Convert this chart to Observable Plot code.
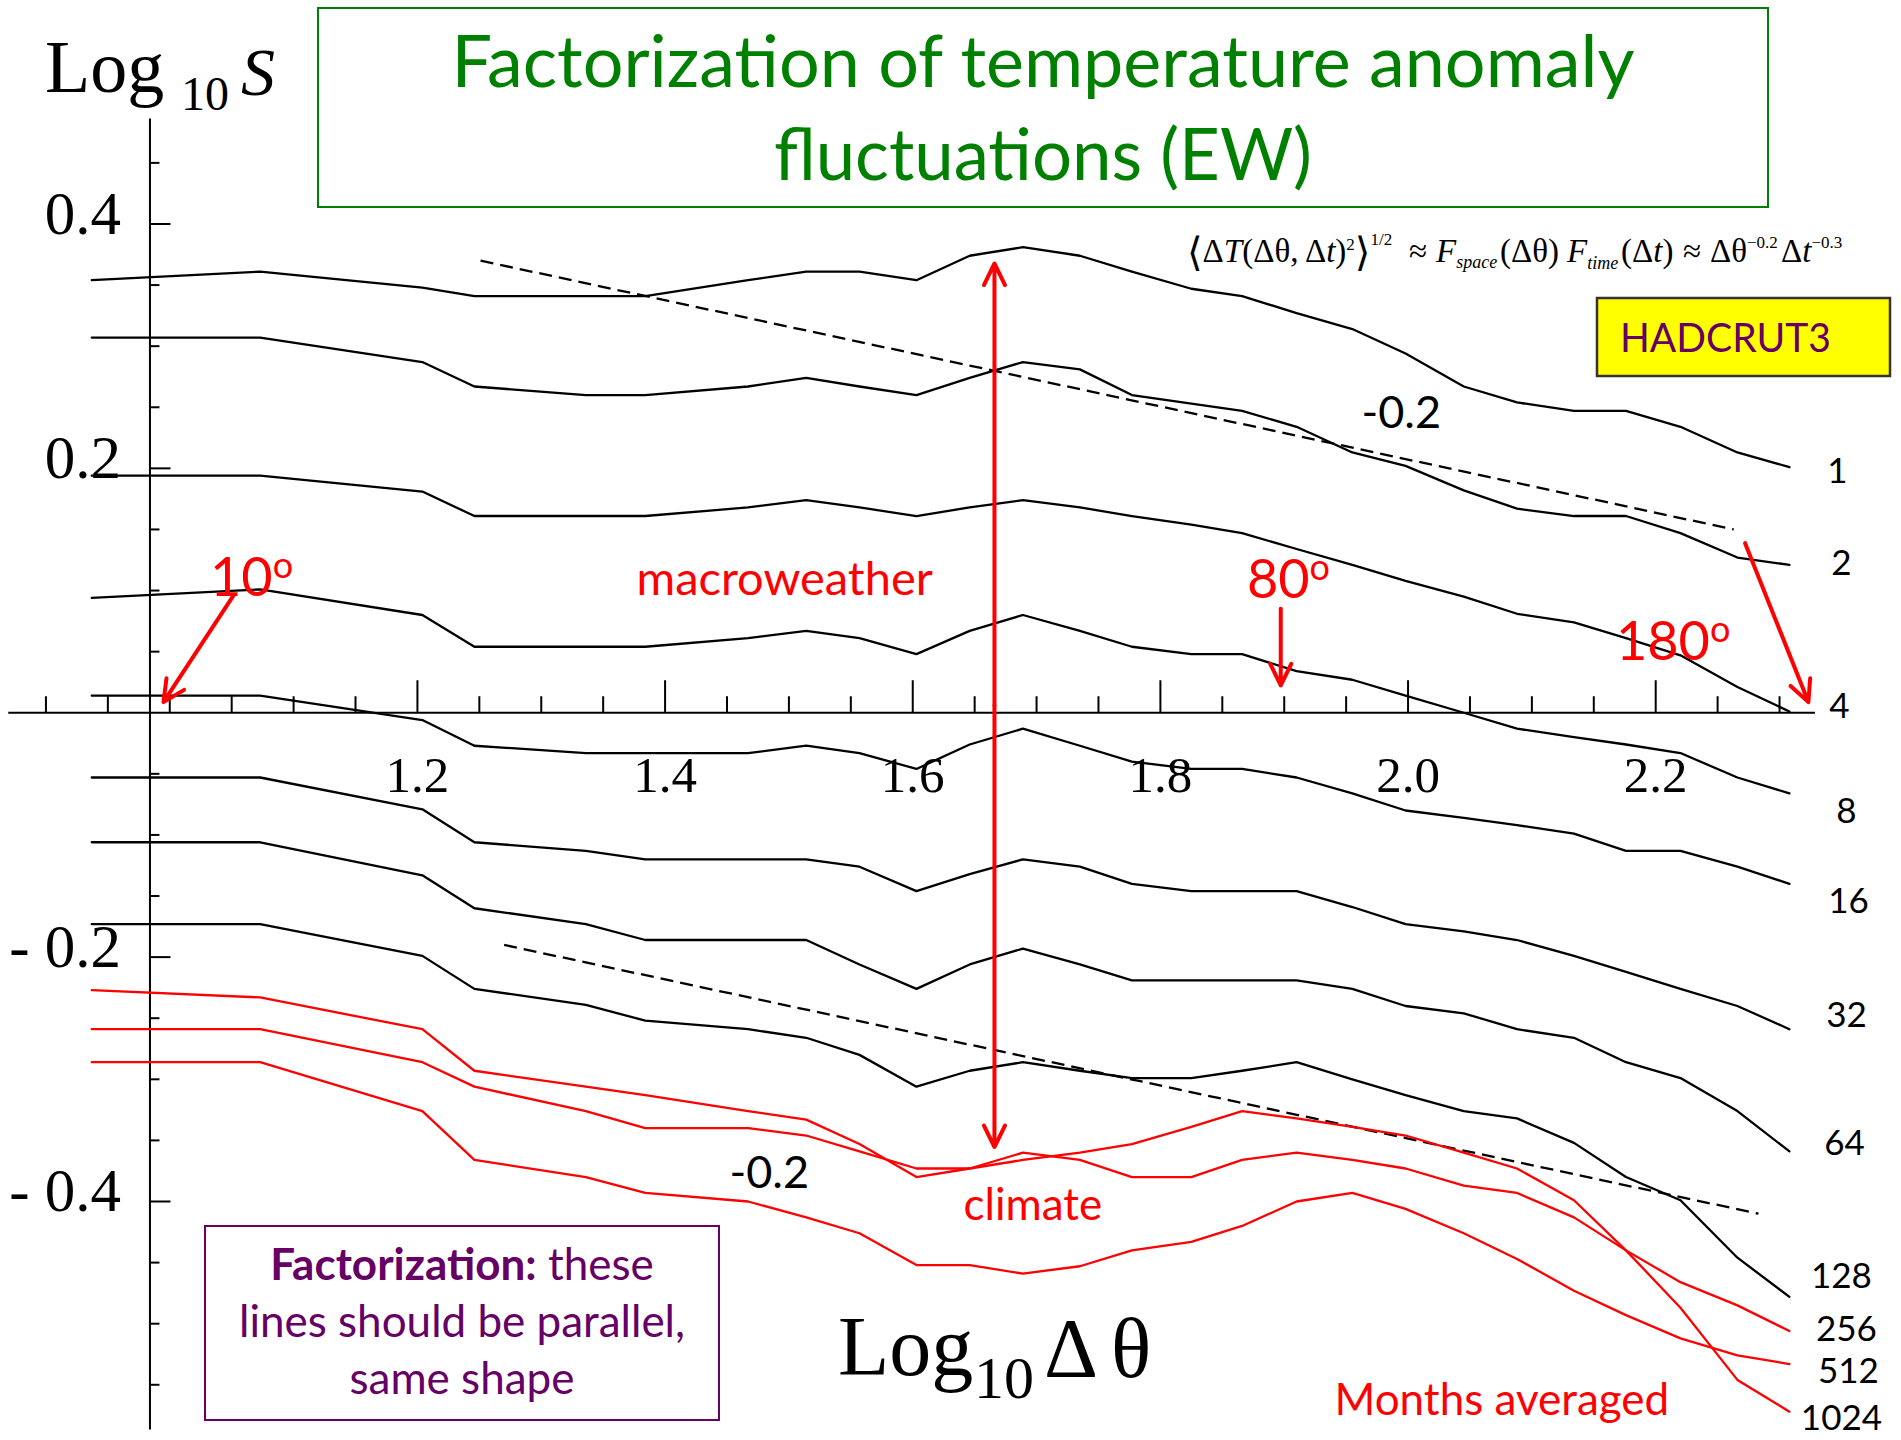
<!DOCTYPE html>
<html>
<head>
<meta charset="utf-8">
<script src="https://cdn.jsdelivr.net/npm/d3@7"></script>
<script src="https://cdn.jsdelivr.net/npm/@observablehq/plot@0.6"></script>
<style>
  html, body { margin: 0; padding: 0; background: #fff; }
  #chart svg { display: block; }
</style>
</head>
<body>
<div id="chart"></div>
<script>
// ---------------------------------------------------------------------------
// Data: log10 of the angular lag Δθ (degrees) and log10 S of the east-west
// temperature anomaly fluctuations, one series per averaging period (months).
// ---------------------------------------------------------------------------
const logTheta = [0.937, 1.073, 1.204, 1.246, 1.336, 1.384, 1.467, 1.514, 1.557, 1.603, 1.646, 1.689, 1.735,
                  1.777, 1.825, 1.866, 1.910, 1.955, 1.998, 2.045, 2.088, 2.134, 2.176, 2.220, 2.266, 2.308];

const s1    = [0.354, 0.361, 0.348, 0.341, 0.341, 0.341, 0.354, 0.361, 0.361, 0.354, 0.374, 0.381, 0.374,
               0.361, 0.347, 0.341, 0.327, 0.314, 0.294, 0.267, 0.254, 0.247, 0.247, 0.234, 0.213, 0.201];
const s2    = [0.307, 0.307, 0.287, 0.267, 0.260, 0.260, 0.267, 0.274, 0.267, 0.260, 0.274, 0.287, 0.281,
               0.260, 0.253, 0.247, 0.234, 0.213, 0.202, 0.182, 0.167, 0.161, 0.161, 0.147, 0.127, 0.121];
const s4    = [0.194, 0.194, 0.181, 0.161, 0.161, 0.161, 0.168, 0.174, 0.168, 0.161, 0.168, 0.174, 0.168,
               0.161, 0.154, 0.147, 0.134, 0.121, 0.108, 0.095, 0.081, 0.074, 0.061, 0.047, 0.021, 0.001];
const s8    = [0.094, 0.101, 0.080, 0.054, 0.054, 0.054, 0.061, 0.067, 0.061, 0.048, 0.067, 0.080, 0.067,
               0.054, 0.048, 0.048, 0.034, 0.027, 0.014, 0.000, -0.013, -0.020, -0.026, -0.033, -0.053, -0.066];
const s16   = [0.014, 0.014, -0.006, -0.027, -0.033, -0.033, -0.033, -0.027, -0.033, -0.046, -0.026, -0.013, -0.027,
               -0.040, -0.046, -0.046, -0.053, -0.066, -0.080, -0.086, -0.092, -0.099, -0.113, -0.113, -0.126, -0.140];
const s32   = [-0.053, -0.053, -0.079, -0.106, -0.113, -0.120, -0.120, -0.120, -0.126, -0.146, -0.132, -0.120, -0.126,
               -0.140, -0.146, -0.146, -0.146, -0.159, -0.173, -0.179, -0.186, -0.199, -0.212, -0.226, -0.240, -0.259];
const s64   = [-0.106, -0.106, -0.133, -0.160, -0.173, -0.186, -0.186, -0.186, -0.206, -0.226, -0.206, -0.193, -0.206,
               -0.219, -0.219, -0.219, -0.219, -0.226, -0.240, -0.246, -0.259, -0.266, -0.286, -0.299, -0.326, -0.359];
const s128  = [-0.173, -0.173, -0.199, -0.226, -0.239, -0.252, -0.259, -0.266, -0.280, -0.306, -0.293, -0.286, -0.293,
               -0.299, -0.299, -0.293, -0.286, -0.300, -0.313, -0.326, -0.332, -0.352, -0.380, -0.399, -0.446, -0.478];
const s256  = [-0.227, -0.233, -0.259, -0.293, -0.306, -0.313, -0.326, -0.333, -0.353, -0.380, -0.373, -0.360, -0.366,
               -0.380, -0.380, -0.366, -0.360, -0.366, -0.373, -0.387, -0.393, -0.413, -0.440, -0.466, -0.485, -0.506];
const s512  = [-0.286, -0.286, -0.326, -0.366, -0.380, -0.393, -0.400, -0.413, -0.426, -0.452, -0.452, -0.459, -0.453,
               -0.440, -0.433, -0.420, -0.400, -0.393, -0.406, -0.426, -0.447, -0.473, -0.493, -0.512, -0.526, -0.533];
const s1024 = [-0.259, -0.259, -0.286, -0.306, -0.326, -0.340, -0.340, -0.346, -0.359, -0.373, -0.373, -0.366, -0.360,
               -0.353, -0.339, -0.326, -0.332, -0.339, -0.346, -0.360, -0.373, -0.399, -0.440, -0.487, -0.546, -0.572];

const periods = ["1", "2", "4", "8", "16", "32", "64", "128", "256", "512", "1024"];
const climatePeriods = ["256", "512", "1024"];

// Axis ticks
const xTickLabels = ["1.2", "1.4", "1.6", "1.8", "2.0", "2.2"];
const yTickLabels = ["0.4", "0.2", "- 0.2", "- 0.4"];
const yTickValues = [0.4, 0.2, -0.2, -0.4];

// Reference slopes (-0.2) drawn as dashed guides
const slopeGuides = [
  {x1: 1.251, y1: 0.370, x2: 2.263, y2: 0.150},
  {x1: 1.270, y1: -0.190, x2: 2.283, y2: -0.410}
];

// ---------------------------------------------------------------------------
// Layout
// ---------------------------------------------------------------------------
const W = 1901, H = 1440;
const X_DOMAIN = [0.8633, 2.3985];
const Y_DOMAIN = [-0.5956, 0.5829];
const sx = Plot.scale({x: {domain: X_DOMAIN, range: [0, W]}});
const sy = Plot.scale({y: {domain: Y_DOMAIN, range: [H, 0]}});
const ux = n => n * (X_DOMAIN[1] - X_DOMAIN[0]) / W;   // px -> x units
const uy = n => n * (Y_DOMAIN[1] - Y_DOMAIN[0]) / H;   // px -> y units (upward)

const yAxisAt = 0.984;               // where the vertical axis crosses the x scale
const xAxisSpan = [0.870, 2.329];
const yAxisSpan = [-0.587, 0.486];

const SERIF = "'Liberation Serif', 'Times New Roman', 'DejaVu Serif', serif";
const SANS = "Lato, 'Open Sans', sans-serif";
const RED = "#ff0000";
const PURPLE = "#660066";
const GREEN = "#008000";

// series label offsets from each line's last point: [dx, dy] in px (dy = baseline below point)
const labelNudge = {
  "1": [48, 16], "2": [52, 10], "4": [50, 6], "8": [57, 30], "16": [59, 29], "32": [57, -2],
  "64": [55, 4], "128": [52, -9], "256": [57, 10], "512": [59, 19], "1024": [52, 18]
};

// ---------------------------------------------------------------------------
// Build tables
// ---------------------------------------------------------------------------
const seriesByPeriod = {"1": s1, "2": s2, "4": s4, "8": s8, "16": s16, "32": s32, "64": s64,
                        "128": s128, "256": s256, "512": s512, "1024": s1024};
const rows = periods.flatMap(p => logTheta.map((x, i) => ({period: p, logTheta: x, logS: seriesByPeriod[p][i]})));
const blackRows = rows.filter(d => !climatePeriods.includes(d.period));
const redRows = rows.filter(d => climatePeriods.includes(d.period));

const last = logTheta.length - 1;
const labelRows = periods.map(p => ({
  period: p,
  x: logTheta[last] + ux(labelNudge[p][0]),
  y: seriesByPeriod[p][last] - uy(labelNudge[p][1])
}));

const xMajor = xTickLabels.map(Number);
const xMinor = d3.range(18, 47).map(k => k / 20).filter(v => !xMajor.some(m => Math.abs(m - v) < 1e-9));
const yMinor = d3.range(-11, 10).map(k => k / 20)
  .filter(v => Math.abs(v) > 1e-9 && !yTickValues.some(m => Math.abs(m - v) < 1e-9));

// Annotation arrows (data coordinates)
const arrows = [
  {x1: 1.0515, y1: 0.0960, x2: 0.9949, y2: 0.0087},   // 10°
  {x1: 1.8972, y1: 0.0851, x2: 1.8972, y2: 0.0223},   // 80°
  {x1: 2.2722, y1: 0.1388, x2: 2.3233, y2: 0.0087},   // 180°
  {x1: 1.666, y1: 0.006, x2: 1.666, y2: 0.3677},      // macroweather ↔ climate
  {x1: 1.666, y1: 0.006, x2: 1.666, y2: -0.3555}
];

const redNotes = [
  {text: "macroweather", x: 1.3769, y: 0.0960, size: 47},
  {text: "climate", x: 1.6410, y: -0.4155, size: 44},
  {text: "Months averaged", x: 1.9406, y: -0.5751, size: 44}
];
const slopeNotes = [
  {text: "-0.2", x: 1.9624, y: 0.2327},
  {text: "-0.2", x: 1.4520, y: -0.3893}
];
const degreeNotes = [
  {deg: "10", x: 1.0329, y: 0.0952},
  {deg: "80", x: 1.8703, y: 0.0935},
  {deg: "180", x: 2.1683, y: 0.0428}
];

// ---------------------------------------------------------------------------
// Chart
// ---------------------------------------------------------------------------
const chart = Plot.plot({
  width: W,
  height: H,
  margin: 0,
  style: {background: "#fff", fontFamily: SANS},
  x: {domain: X_DOMAIN, range: [0, W], axis: null},
  y: {domain: Y_DOMAIN, range: [H, 0], axis: null},
  marks: [
    // axes crossing inside the frame
    Plot.ruleY([0], {x1: xAxisSpan[0], x2: xAxisSpan[1], stroke: "#000", strokeWidth: 2}),
    Plot.ruleX([yAxisAt], {y1: yAxisSpan[0], y2: yAxisSpan[1], stroke: "#000", strokeWidth: 2}),
    Plot.ruleX(xMinor, {x: d => d, y1: 0, y2: uy(16), stroke: "#000", strokeWidth: 2}),
    Plot.ruleX(xMajor, {x: d => d, y1: 0, y2: uy(32), stroke: "#000", strokeWidth: 2}),
    Plot.ruleY(yMinor, {y: d => d, x1: yAxisAt, x2: yAxisAt + ux(10), stroke: "#000", strokeWidth: 2}),
    Plot.ruleY(yTickValues, {y: d => d, x1: yAxisAt, x2: yAxisAt + ux(21), stroke: "#000", strokeWidth: 2}),
    Plot.text(xMajor, {x: d => d, y: 0, text: (d, i) => xTickLabels[i], textAnchor: "middle", lineAnchor: "bottom",
      dy: 79, fontFamily: SERIF, fontSize: 51, fill: "#000"}),
    Plot.text(yTickValues, {x: yAxisAt, y: d => d, text: (d, i) => yTickLabels[i], textAnchor: "end", lineAnchor: "bottom",
      dx: -29, dy: 10, fontFamily: SERIF, fontSize: 61, fill: "#000"}),

    // dashed -0.2 reference slopes
    Plot.link(slopeGuides, {x1: "x1", y1: "y1", x2: "x2", y2: "y2", stroke: "#000", strokeWidth: 2.3, strokeDasharray: "13,7"}),

    // fluctuation curves
    Plot.line(blackRows, {x: "logTheta", y: "logS", z: "period", stroke: "#000", strokeWidth: 2.3}),
    Plot.line(redRows, {x: "logTheta", y: "logS", z: "period", stroke: RED, strokeWidth: 2.3}),

    // averaging-period labels at the right end of each curve
    Plot.text(labelRows, {x: "x", y: "y", text: "period", textAnchor: "middle", lineAnchor: "bottom",
      fontFamily: SANS, fontSize: 35, fill: "#000"}),

    // annotations
    Plot.arrow(arrows, {x1: "x1", y1: "y1", x2: "x2", y2: "y2", stroke: RED, strokeWidth: 4, headLength: 9, headAngle: 52}),
    Plot.text(redNotes, {x: "x", y: "y", text: "text", textAnchor: "start", lineAnchor: "bottom",
      fontSize: d => d.size, fontFamily: SANS, fill: RED}),
    Plot.text(slopeNotes, {x: "x", y: "y", text: "text", textAnchor: "start", lineAnchor: "bottom",
      fontSize: 45, fontFamily: SANS, fill: "#000"})
  ]
});
document.getElementById("chart").appendChild(chart);

// ---------------------------------------------------------------------------
// Rich-text overlays (titles, formula, boxes)
// ---------------------------------------------------------------------------
const svg = d3.select(chart);
const overlay = svg.append("g").attr("text-anchor", "start");

function rich(parent, x, y, pieces, base) {
  const t = parent.append("text")
    .attr("x", x).attr("y", y)
    .attr("font-family", base.family)
    .attr("font-size", base.size)
    .attr("fill", base.fill || "#000")
    .attr("text-anchor", base.anchor || "start")
    .style("white-space", "pre");
  let shift = 0;
  for (const p of pieces) {
    const s = t.append("tspan").text(p.t);
    if (p.x != null) s.attr("x", p.x);
    const sh = p.shift || 0;
    if (sh !== shift) { s.attr("dy", sh - shift); shift = sh; }
    if (p.size) s.attr("font-size", p.size);
    if (p.italic) s.attr("font-style", "italic");
    if (p.bold) s.attr("font-weight", "bold");
  }
  return t;
}

// degree markers
for (const d of degreeNotes) {
  rich(overlay, sx.apply(d.x), sy.apply(d.y), [
    {t: d.deg},
    {t: "o", size: 36, shift: -18}
  ], {family: SANS, size: 54, fill: RED});
}

// title box
overlay.append("rect").attr("x", 318).attr("y", 8).attr("width", 1450).attr("height", 199)
  .attr("fill", "none").attr("stroke", GREEN).attr("stroke-width", 2);
overlay.append("text").attr("x", 1043).attr("y", 87).attr("text-anchor", "middle")
  .attr("font-family", SANS).attr("font-size", 71).attr("fill", GREEN)
  .attr("textLength", 1183).attr("lengthAdjust", "spacingAndGlyphs")
  .text("Factorization of temperature anomaly");
overlay.append("text").attr("x", 1043).attr("y", 180).attr("text-anchor", "middle")
  .attr("font-family", SANS).attr("font-size", 71).attr("fill", GREEN)
  .attr("textLength", 538).attr("lengthAdjust", "spacingAndGlyphs")
  .text("fluctuations (EW)");

// factorization formula
rich(overlay, 1187, 262, [
  {t: "⟨", size: 40, shift: 4},
  {t: "Δ", shift: 0}, {t: "T", italic: true},
  {t: "(Δθ, Δ"}, {t: "t", italic: true}, {t: ")"},
  {t: "2", size: 17, shift: -12},
  {t: "⟩", size: 40, shift: 4},
  {t: "1/2", size: 17, shift: -17},
  {t: "≈", x: 1409, shift: 0},
  {t: "F", italic: true, x: 1436},
  {t: "space", italic: true, size: 18, shift: 6},
  {t: "(Δθ)", x: 1500, shift: 0},
  {t: "F", italic: true, x: 1567},
  {t: "time", italic: true, size: 18, shift: 7},
  {t: "(Δ", x: 1621, shift: 0}, {t: "t", italic: true}, {t: ")"},
  {t: "≈", x: 1683},
  {t: "Δθ", x: 1710},
  {t: "−0.2", size: 17, shift: -14},
  {t: "Δ", x: 1781, shift: 0}, {t: "t", italic: true},
  {t: "−0.3", size: 17, shift: -14}
], {family: SERIF, size: 33});

// dataset tag
overlay.append("rect").attr("x", 1597).attr("y", 298).attr("width", 293).attr("height", 78)
  .attr("fill", "#ffff00").attr("stroke", "#333").attr("stroke-width", 2.5);
overlay.append("text").attr("x", 1620).attr("y", 352)
  .attr("font-family", SANS).attr("font-size", 40).attr("fill", PURPLE)
  .attr("textLength", 211).attr("lengthAdjust", "spacingAndGlyphs")
  .text("HADCRUT3");

// note box
overlay.append("rect").attr("x", 205).attr("y", 1226).attr("width", 514).attr("height", 194)
  .attr("fill", "#fff").attr("stroke", PURPLE).attr("stroke-width", 2);
rich(overlay, 462, 1280, [{t: "Factorization:", bold: true}, {t: " these"}],
  {family: SANS, size: 44, fill: PURPLE, anchor: "middle"});
rich(overlay, 462, 1337, [{t: "lines should be parallel,"}],
  {family: SANS, size: 44, fill: PURPLE, anchor: "middle"});
rich(overlay, 462, 1394, [{t: "same shape"}],
  {family: SANS, size: 44, fill: PURPLE, anchor: "middle"});

// axis titles
rich(overlay, 45, 92, [
  {t: "Log"},
  {t: "10", size: 48, shift: 18, x: 181},
  {t: "S", italic: true, size: 68, shift: 3, x: 241}
], {family: SERIF, size: 74});
rich(overlay, 838, 1375, [
  {t: "Log"},
  {t: "10", size: 60, shift: 23, x: 974},
  {t: "Δ", shift: 2, x: 1044},
  {t: "θ", shift: 2, x: 1111}
], {family: SERIF, size: 84});
</script>
</body>
</html>
